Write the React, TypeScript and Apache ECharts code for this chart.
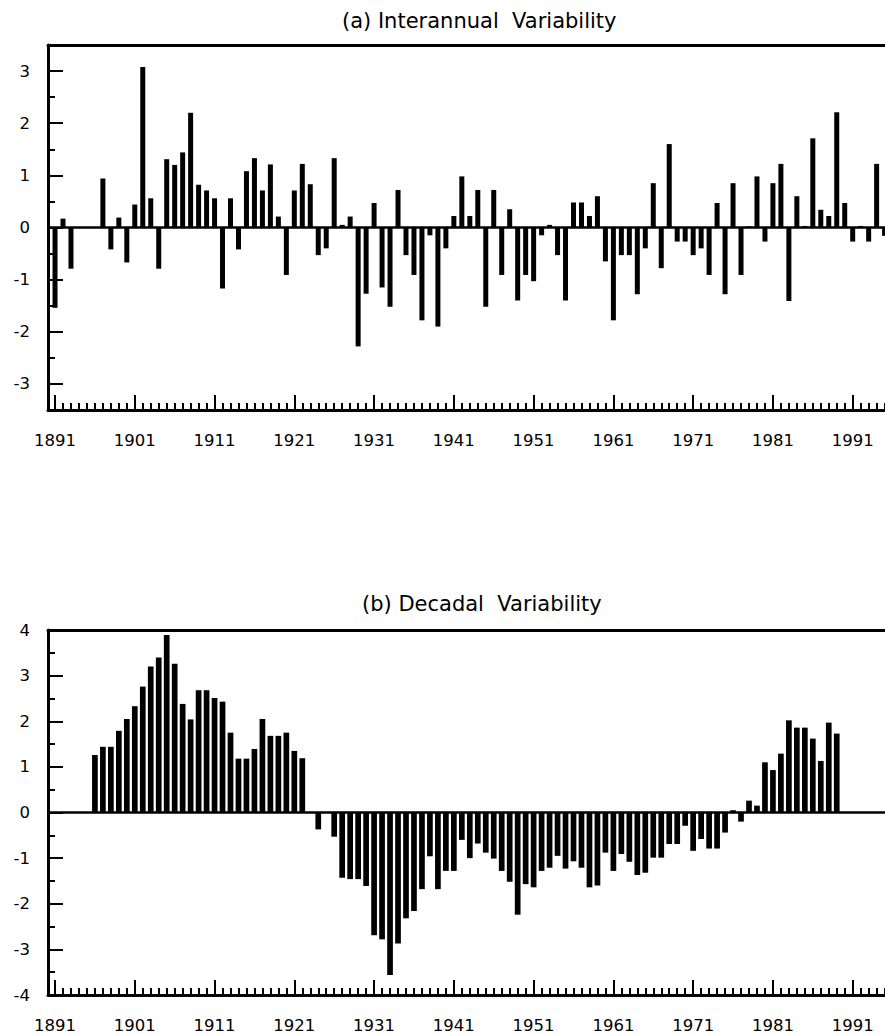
import React, { useEffect, useRef } from "react";
import * as echarts from "echarts";

const FONT = "'DejaVu Sans', 'Liberation Sans', Arial, sans-serif";

// first year of the series, values follow year by year (null = no bar)
const FIRST_YEAR = 1891;

const interannual: (number | null)[] = [
  -1.54, 0.17, -0.79, null, null, null, 0.94, -0.42, 0.19, -0.67, // 1891-1900
  0.44, 3.08, 0.56, -0.79, 1.31, 1.2, 1.44, 2.2, 0.82, 0.71, // 1901-1910
  0.56, -1.17, 0.56, -0.42, 1.08, 1.33, 0.71, 1.21, 0.21, -0.91, // 1911-1920
  0.71, 1.22, 0.83, -0.53, -0.4, 1.33, 0.05, 0.21, -2.28, -1.27, // 1921-1930
  0.47, -1.15, -1.52, 0.72, -0.53, -0.91, -1.78, -0.15, -1.9, -0.4, // 1931-1940
  0.22, 0.98, 0.22, 0.72, -1.52, 0.72, -0.91, 0.35, -1.4, -0.91, // 1941-1950
  -1.03, -0.15, 0.05, -0.53, -1.4, 0.48, 0.48, 0.22, 0.6, -0.65, // 1951-1960
  -1.78, -0.53, -0.53, -1.28, -0.4, 0.85, -0.78, 1.6, -0.27, -0.27, // 1961-1970
  -0.53, -0.4, -0.91, 0.47, -1.28, 0.85, -0.91, 0.02, 0.98, -0.27, // 1971-1980
  0.85, 1.22, -1.41, 0.6, 0.03, 1.71, 0.34, 0.22, 2.21, 0.47, // 1981-1990
  -0.27, 0.03, -0.27, 1.22, -0.16, // 1991-1995
];

const decadal: (number | null)[] = [
  null, null, null, null, null, 1.26, 1.44, 1.44, 1.79, 2.05, // 1891-1900
  2.33, 2.76, 3.2, 3.4, 3.89, 3.26, 2.38, 2.04, 2.68, 2.68, // 1901-1910
  2.51, 2.43, 1.75, 1.18, 1.18, 1.39, 2.05, 1.68, 1.68, 1.75, // 1911-1920
  1.35, 1.19, null, -0.37, null, -0.53, -1.43, -1.46, -1.46, -1.61, // 1921-1930
  -2.69, -2.78, -3.56, -2.87, -2.32, -2.16, -1.68, -0.96, -1.68, -1.28, // 1931-1940
  -1.28, -0.6, -1.0, -0.68, -0.88, -1.01, -1.28, -1.52, -2.24, -1.57, // 1941-1950
  -1.64, -1.28, -1.21, -0.95, -1.23, -1.07, -1.21, -1.64, -1.6, -0.88, // 1951-1960
  -1.28, -0.91, -1.08, -1.37, -1.32, -0.99, -0.99, -0.69, -0.69, -0.29, // 1961-1970
  -0.84, -0.58, -0.79, -0.79, -0.44, 0.05, -0.2, 0.26, 0.15, 1.1, // 1971-1980
  0.93, 1.29, 2.02, 1.86, 1.86, 1.62, 1.13, 1.97, 1.73, null, // 1981-1990
  null, null, null, null, null, // 1991-1995
];

const xTickLabels = [1891, 1901, 1911, 1921, 1931, 1941, 1951, 1961, 1971, 1981, 1991];
const yTicksA = [-3, -2, -1, 0, 1, 2, 3];
const yMinorA = [-2.5, -1.5, -0.5, 0.5, 1.5, 2.5];
const yTicksB = [-4, -3, -2, -1, 0, 1, 2, 3, 4];
const yMinorB = [-3.5, -2.5, -1.5, -0.5, 0.5, 1.5, 2.5, 3.5];

const titles = ["(a) Interannual\u00a0 Variability", "(b) Decadal\u00a0 Variability"];

const X_MIN = 1890.12;
const X_MAX = 1995.05;

function buildOption() {
  const years: number[] = [];
  for (let i = 0; i < interannual.length; i++) years.push(FIRST_YEAR + i);

  const toData = (vals: (number | null)[]) =>
    years
      .map((y, i) => [y, vals[i]] as [number, number | null])
      .filter((d) => d[1] !== null);

  const black = "#000";
  const grids = [
    { left: 48, top: 45, width: 837, height: 365 },
    { left: 48, top: 630, width: 837, height: 367 },
  ];
  const panels = [
    { yMin: -3.5, yMax: 3.5, yTicks: yTicksA, yMinor: yMinorA, vals: interannual, bw: 5 },
    { yMin: -4, yMax: 4, yTicks: yTicksB, yMinor: yMinorB, vals: decadal, bw: 5.7 },
  ];

  const xAxis: any[] = [];
  const yAxis: any[] = [];
  const series: any[] = [];

  panels.forEach((p, g) => {
    const base = {
      type: "value",
      gridIndex: g,
      min: X_MIN,
      max: X_MAX,
      splitLine: { show: false },
    };
    const minorIdx = xAxis.length;
    xAxis.push({
      ...base,
      position: "bottom",
      axisLine: { show: true, onZero: false, lineStyle: { color: black, width: 3 } },
      axisTick: { show: true, inside: true, length: 7, customValues: years, lineStyle: { color: black, width: 2 } },
      axisLabel: { show: false },
    });
    xAxis.push({
      ...base,
      position: "bottom",
      axisLine: { show: false, onZero: false },
      axisTick: { show: true, inside: true, length: 15, customValues: xTickLabels, lineStyle: { color: black, width: 2 } },
      axisLabel: {
        show: true,
        customValues: xTickLabels,
        margin: 22,
        fontSize: 16.5,
        fontFamily: FONT,
        color: black,
        formatter: (v: number) => String(v),
      },
    });
    xAxis.push({
      ...base,
      position: "top",
      axisLine: { show: true, onZero: false, lineStyle: { color: black, width: 3 } },
      axisTick: { show: false },
      axisLabel: { show: false },
    });

    const yMainIdx = yAxis.length;
    yAxis.push({
      type: "value",
      gridIndex: g,
      min: p.yMin,
      max: p.yMax,
      position: "left",
      splitLine: { show: false },
      axisLine: { show: true, onZero: false, lineStyle: { color: black, width: 3 } },
      axisTick: { show: true, inside: true, length: 15, customValues: p.yTicks, lineStyle: { color: black, width: 2 } },
      axisLabel: {
        show: true,
        customValues: p.yTicks,
        margin: 18,
        fontSize: 16.5,
        fontFamily: FONT,
        color: black,
        formatter: (v: number) => String(v),
      },
    });
    yAxis.push({
      type: "value",
      gridIndex: g,
      min: p.yMin,
      max: p.yMax,
      position: "left",
      splitLine: { show: false },
      axisLine: { show: false, onZero: false },
      axisTick: { show: true, inside: true, length: 7, customValues: p.yMinor, lineStyle: { color: black, width: 2 } },
      axisLabel: { show: false },
    });

    series.push({
      type: "bar",
      xAxisIndex: minorIdx,
      yAxisIndex: yMainIdx,
      data: toData(p.vals),
      barWidth: p.bw,
      itemStyle: { color: black },
      silent: true,
      markLine: {
        silent: true,
        symbol: ["none", "none"],
        label: { show: false },
        lineStyle: { color: black, width: 2.5, type: "solid" },
        data: [{ yAxis: 0 }],
      },
    });
  });

  return {
    animation: false,
    backgroundColor: "#fff",
    title: [
      { text: titles[0], left: 337, top: 5, textStyle: { fontSize: 21, fontWeight: "normal", fontFamily: FONT, color: "#000" } },
      { text: titles[1], left: 357, top: 588, textStyle: { fontSize: 21, fontWeight: "normal", fontFamily: FONT, color: "#000" } },
    ],
    grid: grids,
    xAxis,
    yAxis,
    series,
  };
}

export default function App() {
  const ref = useRef<HTMLDivElement>(null);
  useEffect(() => {
    if (!ref.current) return;
    const chart = echarts.init(ref.current, null, { renderer: "svg" });
    chart.setOption(buildOption() as any);
    return () => chart.dispose();
  }, []);
  return (
    <div
      ref={ref}
      style={{ position: "fixed", left: 0, top: 0, width: 885, height: 1034, background: "#fff" }}
    />
  );
}
